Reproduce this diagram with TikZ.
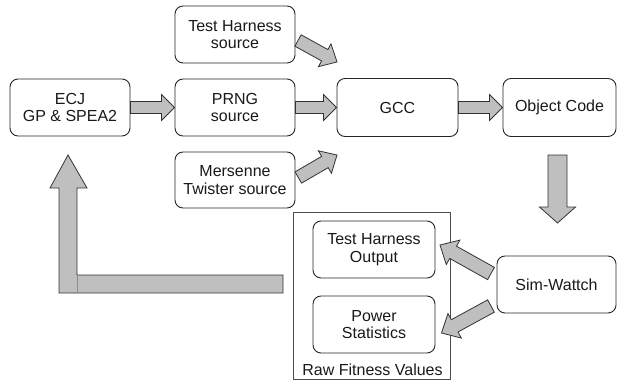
\documentclass[tikz,border=0pt]{standalone}
\usepackage{fontspec}
\setmainfont{Liberation Sans}
\usetikzlibrary{calc}
\tikzset{
  box/.style={draw=black!85, line width=0.9pt, rounded corners=8pt, align=center,
    inner sep=0pt, font=\fontsize{16}{17.5}\selectfont, text=black!90},
  arrowstyle/.style={draw=black!80, fill=black!25, line width=0.8pt, line join=miter},
  grp/.style={draw=black!70, line width=0.9pt},
}
\newcommand{\barrow}[5]{%
  \coordinate (hb) at ($(#2)!#5!(#1)$);
  \draw[arrowstyle] ($(#1)!#3!90:(#2)$) -- ($(hb)!#3!90:(#2)$) -- ($(hb)!#4!90:(#2)$) -- (#2)
    -- ($(hb)!#4!-90:(#2)$) -- ($(hb)!#3!-90:(#2)$) -- ($(#1)!#3!-90:(#2)$) -- cycle;}
\begin{document}
\begin{tikzpicture}[x=1pt,y=-1pt]
\useasboundingbox (0,0) rectangle (617,382);
% nodes
\node[box, minimum width=120pt, minimum height=57pt] (ecj) at (70,107.5) {ECJ\\GP \& SPEA2};
\node[box, minimum width=120pt, minimum height=57pt] (ths) at (235,34.5) {Test Harness\\source};
\node[box, minimum width=120pt, minimum height=57pt] (prng) at (235,107.5) {PRNG\\source};
\node[box, minimum width=120pt, minimum height=56pt] (mt) at (235,180) {Mersenne\\Twister source};
\node[box, minimum width=121pt, minimum height=58pt] (gcc) at (397.5,107.5) {GCC};
\node[box, minimum width=113pt, minimum height=58pt] (obj) at (559.5,107.5) {Object Code};
\node[box, minimum width=119pt, minimum height=57pt] (sw) at (556.5,284.5) {Sim-Wattch};
\draw[grp] (293,212) rectangle (450,379);
\node[font=\fontsize{16}{17.5}\selectfont, text=black!90, inner sep=0pt] (rfv) at (372.5,369.5) {Raw Fitness Values};
\node[box, minimum width=122pt, minimum height=57pt] (tho) at (374,249.5) {Test Harness\\Output};
\node[box, minimum width=122pt, minimum height=57pt] (ps) at (374,324.5) {Power\\Statistics};
% connector end points
\coordinate (t1) at (298,40.5);
\coordinate (t2) at (337,62);
\coordinate (m1) at (298.3,177.5);
\coordinate (m2) at (337,155);
\coordinate (d1) at (557.5,155);
\coordinate (d2) at (557.5,223);
\coordinate (s1) at (491,273.5);
\coordinate (s2) at (440,245);
\coordinate (p1) at (491,306);
\coordinate (p2) at (441.5,333);
% block arrows
\barrow{ecj.east}{prng.west}{6pt}{13pt}{13pt}
\barrow{prng.east}{gcc.west}{6pt}{13pt}{13pt}
\barrow{gcc.east}{obj.west}{6pt}{13pt}{13pt}
\barrow{t1}{t2}{6.5pt}{13pt}{14pt}
\barrow{m1}{m2}{6.5pt}{13pt}{14pt}
\barrow{d1}{d2}{9.5pt}{18pt}{16pt}
\barrow{s1}{s2}{7pt}{14pt}{15pt}
\barrow{p1}{p2}{7pt}{14pt}{15pt}
% feedback arrow
\coordinate (fb0) at (283,284);
\coordinate (fbt) at (68,155);
\draw[arrowstyle] ($(fb0)+(0,9)$) -- (59,293) -- (59,188) -- (50,188) -- (fbt) -- (87,188)
  -- (77,188) -- (77,275) -- ($(fb0)+(0,-9)$) -- cycle;
\draw[black!45, line width=0.6pt] (77,275) -- (77,293);
\end{tikzpicture}
\end{document}
